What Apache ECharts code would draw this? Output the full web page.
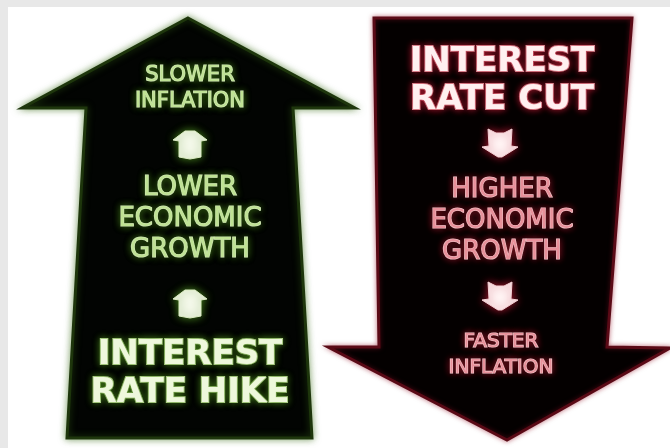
<!DOCTYPE html>
<html>
<head>
<meta charset="utf-8">
<script src="https://cdn.jsdelivr.net/npm/echarts@6/dist/echarts.min.js"></script>
<style>
html,body{margin:0;padding:0;background:#e8e8e8;}
#main{width:670px;height:448px;}
</style>
</head>
<body>
<div id="main"></div>
<script>
// texts of the two arrows, read bottom-up on the left and top-down on the right
var hikeTop = ['SLOWER', 'INFLATION'];
var hikeMid = ['LOWER', 'ECONOMIC', 'GROWTH'];
var hikeBottom = ['INTEREST', 'RATE HIKE'];
var cutTop = ['INTEREST', 'RATE CUT'];
var cutMid = ['HIGHER', 'ECONOMIC', 'GROWTH'];
var cutBottom = ['FASTER', 'INFLATION'];

var green = {fill: '#bfe294', halo: '#e6f4d0', glow: '#3c7014', w: 1.2};
var greenBig = {fill: '#eef8dc', halo: '#c4e29e', glow: '#3c7014', w: 2};
var red = {fill: '#e8909a', halo: '#fde2e4', glow: '#8c1424', w: 1.2};
var redBig = {fill: '#fff0f0', halo: '#eca4ac', glow: '#9c1428', w: 2};

function textLines(lines, cx, y0, step, size, bold, c) {
    var out = [];
    var font = (bold ? 'bold ' : '') + size + 'px "DejaVu Sans", Verdana, sans-serif';
    for (var i = 0; i < lines.length; i++) {
        // halo under the letters
        out.push({
            type: 'text', x: cx, y: y0 + i * step, z: 19,
            style: {
                text: lines[i], font: font,
                fill: c.halo, stroke: c.halo, lineWidth: c.w,
                align: 'center', verticalAlign: 'middle',
                textShadowBlur: 7, textShadowColor: c.glow,
                shadowBlur: 7, shadowColor: c.glow
            }
        });
        out.push({
            type: 'text', x: cx, y: y0 + i * step, z: 20,
            style: {
                text: lines[i], font: font, fill: c.fill,
                align: 'center', verticalAlign: 'middle'
            }
        });
    }
    return out;
}

function upIcon(cx, cy, c) {
    return {
        type: 'polygon', z: 20,
        shape: {points: [[cx - 5, cy - 14], [cx + 5, cy - 14], [cx + 17, cy - 5], [cx + 11, cy - 4],
            [cx + 11, cy + 12], [cx, cy + 14], [cx - 11, cy + 12], [cx - 11, cy - 4], [cx - 17, cy - 5]]},
        style: {fill: c.fill, stroke: c.halo, lineWidth: 1, shadowBlur: 8, shadowColor: c.glow}
    };
}

function downIcon(cx, cy, c) {
    return {
        type: 'polygon', z: 20,
        shape: {points: [[cx - 12, cy - 14], [cx - 4, cy - 10], [cx + 4, cy - 10], [cx + 12, cy - 14],
            [cx + 11, cy + 3], [cx + 18, cy + 4], [cx + 2, cy + 14], [cx - 2, cy + 14], [cx - 18, cy + 4], [cx - 11, cy + 3]]},
        style: {fill: c.fill, stroke: c.halo, lineWidth: 1, shadowBlur: 8, shadowColor: c.glow}
    };
}

var myChart = echarts.init(document.getElementById('main'));

var elements = [
    {type: 'rect', z: 1, shape: {x: 0, y: 0, width: 670, height: 448}, style: {fill: '#e8e8e8'}},
    {type: 'rect', z: 2, shape: {x: 8, y: 7, width: 662, height: 441}, style: {fill: '#ffffff'}},
    // up arrow
    {
        type: 'polygon', z: 10,
        shape: {points: [[188, 18], [355, 108], [293, 108], [312, 438], [67, 438], [86, 108], [22, 108]]},
        style: {fill: '#020402', stroke: '#1e360c', lineWidth: 3, shadowBlur: 7, shadowColor: 'rgba(60,110,25,0.6)'}
    },
    // down arrow
    {
        type: 'polygon', z: 10,
        shape: {points: [[374, 18], [632, 18], [607, 347], [670, 348], [507, 440], [328, 347], [379, 347]]},
        style: {fill: '#040000', stroke: '#5a0a16', lineWidth: 3, shadowBlur: 5, shadowColor: 'rgba(150,20,40,0.5)'}
    },
    upIcon(190, 145, {fill: '#f4f8ea', halo: '#dcecc4', glow: '#4a8a1c'}),
    upIcon(190, 304, {fill: '#f4f8ea', halo: '#dcecc4', glow: '#4a8a1c'}),
    downIcon(500, 143, {fill: '#fff4f4', halo: '#f4d0d4', glow: '#b01830'}),
    downIcon(500, 296, {fill: '#fff4f4', halo: '#f4d0d4', glow: '#b01830'})
];

elements = elements
    .concat(textLines(hikeTop, 190, 76, 26, 21, false, green))
    .concat(textLines(hikeMid, 190, 188, 31, 26, false, green))
    .concat(textLines(hikeBottom, 190, 355, 38, 34, true, greenBig))
    .concat(textLines(cutTop, 502, 62, 38, 34, true, redBig))
    .concat(textLines(cutMid, 502, 190, 31, 26, false, red))
    .concat(textLines(cutBottom, 501, 342, 26, 20, false, red));

var option = {
    backgroundColor: '#ffffff',
    animation: false,
    graphic: {elements: elements}
};

myChart.setOption(option);
window.onresize = function () {
    myChart.resize();
};
</script>
</body>
</html>
